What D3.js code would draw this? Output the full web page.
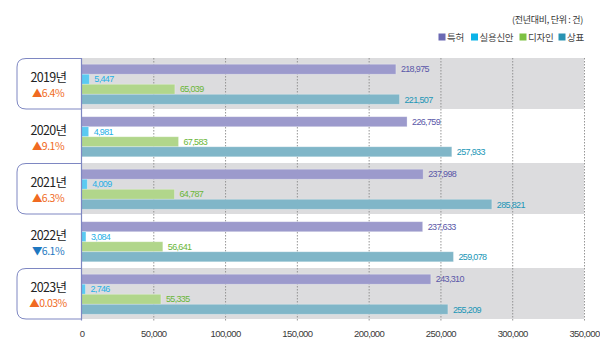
<!DOCTYPE html>
<html>
<head>
<meta charset="utf-8">
<script src="https://cdn.jsdelivr.net/npm/d3@7"></script>
<style>
  body { margin: 0; background: #fff; }
  svg { display: block; font-family: 'Noto Sans CJK KR', 'Noto Sans', sans-serif; }
</style>
</head>
<body>
<div class="chart"></div>
<script>
const years = ['2019년', '2020년', '2021년', '2022년', '2023년'];
const changeRates = [6.4, 9.1, 6.3, -6.1, 0.03];
const seriesNames = ['특허', '실용신안', '디자인', '상표'];
const patent = [218975, 226759, 237998, 237633, 243310];
const utility = [5447, 4981, 4009, 3084, 2746];
const design = [65039, 67583, 64787, 56641, 55335];
const trademark = [221507, 257933, 285821, 259078, 255209];
const xTicks = [0, 50000, 100000, 150000, 200000, 250000, 300000, 350000];

const width = 600;
const height = 342;
const margin = { top: 58, left: 81.5, bottom: 21.5, right: 16 };

// bar fill / value label / legend swatch per series
const barColors = ['#9c9acc', '#5bcaf1', '#b1d68b', '#80b6c8'];
const labelColors = ['#5a57a8', '#1fb0e6', '#69b637', '#2096b6'];
const legendColors = ['#6b69b3', '#0bb3e8', '#7cc142', '#2a93b2'];

const seriesValues = [patent, utility, design, trademark];
const rows = years.map((y, i) => ({
  year: y,
  rate: changeRates[i],
  values: seriesValues.map((s, k) => ({ key: k, value: s[i] }))
}));

const svg = d3.select('.chart').append('svg')
  .attr('width', width)
  .attr('height', height);

const x = d3.scaleLinear()
  .domain([0, 350000])
  .range([margin.left, width - margin.right]);

const y = d3.scaleBand()
  .domain(years)
  .range([margin.top, height - margin.bottom]);

const inner = d3.scaleBand()
  .domain(d3.range(seriesNames.length))
  .range([0, y.bandwidth()])
  .paddingOuter(0.62);

// shaded rows for every other year
svg.append('g').selectAll('rect')
  .data(rows.filter((d, i) => i % 2 === 0))
  .join('rect')
    .attr('x', x(0))
    .attr('y', d => y(d.year))
    .attr('width', x(350000) - x(0))
    .attr('height', y.bandwidth() - 1.5)
    .attr('fill', '#dcdcde');

// dotted grid
svg.append('g').selectAll('line')
  .data(xTicks.slice(1))
  .join('line')
    .attr('x1', d => x(d) + 0.5)
    .attr('x2', d => x(d) + 0.5)
    .attr('y1', margin.top)
    .attr('y2', height - margin.bottom)
    .attr('stroke', '#8a8a8a')
    .attr('stroke-width', 0.9)
    .attr('stroke-dasharray', '1.5,1.5');

// bars
const groups = svg.append('g').selectAll('g')
  .data(rows)
  .join('g')
    .attr('transform', d => `translate(0,${y(d.year)})`);

groups.selectAll('rect')
  .data(d => d.values)
  .join('rect')
    .attr('x', x(0))
    .attr('y', d => inner(d.key))
    .attr('width', d => x(d.value) - x(0))
    .attr('height', inner.bandwidth())
    .attr('fill', d => barColors[d.key])
    .attr('stroke', '#fff')
    .attr('stroke-opacity', 0.35)
    .attr('stroke-width', 0.8);

groups.selectAll('text')
  .data(d => d.values)
  .join('text')
    .attr('x', d => x(d.value) + 5)
    .attr('y', d => inner(d.key) + inner.bandwidth() / 2)
    .attr('dy', '0.36em')
    .attr('fill', d => labelColors[d.key])
    .style('font-family', "'Liberation Sans', Arial, sans-serif")
    .style('font-size', '9px')
    .style('letter-spacing', '-0.65px')
    .text(d => d3.format(',')(d.value));

// year boxes on the left
const yearCells = svg.append('g').selectAll('g')
  .data(rows)
  .join('g')
    .attr('transform', d => `translate(0,${y(d.year)})`);

yearCells.filter((d, i) => i % 2 === 0)
  .append('path')
    .attr('d', () => {
      const l = 17, r = x(0), h = y.bandwidth() - 1.5, rad = 9;
      return `M${r},0.5 H${l + rad} Q${l},0.5 ${l},${rad} V${h - rad} Q${l},${h} ${l + rad},${h} H${r}`;
    })
    .attr('fill', '#fff')
    .attr('stroke', '#7e87c2')
    .attr('stroke-width', 1);

yearCells.append('text')
  .attr('x', 48.5)
  .attr('y', y.bandwidth() / 2 - 2)
  .attr('text-anchor', 'middle')
  .attr('fill', '#222')
  .style('font-size', '12.5px')
  .style('letter-spacing', '-0.7px')
  .text(d => d.year);

yearCells.append('text')
  .attr('x', 48)
  .attr('y', y.bandwidth() / 2 + 13)
  .attr('text-anchor', 'middle')
  .attr('fill', d => d.rate < 0 ? '#1f78c1' : '#f06a22')
  .style('font-size', '10.5px')
  .style('letter-spacing', '-0.5px')
  .text(d => (d.rate < 0 ? '▼' : '▲') + Math.abs(d.rate) + '%');

// left axis line
svg.append('line')
  .attr('x1', x(0))
  .attr('x2', x(0))
  .attr('y1', margin.top)
  .attr('y2', height - margin.bottom)
  .attr('stroke', '#7e87c2')
  .attr('stroke-width', 1.2);

// x axis labels
const xAxis = d3.axisBottom(x)
  .tickValues(xTicks)
  .tickFormat(d3.format(','))
  .tickSize(0)
  .tickPadding(10);

svg.append('g')
  .attr('transform', `translate(0,${height - margin.bottom})`)
  .call(xAxis)
  .call(g => g.select('.domain').remove())
  .call(g => g.selectAll('text')
    .attr('fill', '#3a3a3a')
    .style('font-family', "'Liberation Sans', Arial, sans-serif")
    .style('font-size', '9.5px')
    .style('letter-spacing', '-0.6px'));

// unit note and legend
svg.append('text')
  .attr('x', 583)
  .attr('y', 23)
  .attr('text-anchor', 'end')
  .attr('fill', '#333')
  .style('font-size', '9px')
  .style('letter-spacing', '-0.3px')
  .text('(전년대비, 단위 : 건)');

const legendX = [438.5, 471, 519.5, 558.5];
const legend = svg.append('g').selectAll('g')
  .data(seriesNames)
  .join('g')
    .attr('transform', (d, i) => `translate(${legendX[i]},33.5)`);

legend.append('rect')
  .attr('width', 7)
  .attr('height', 7)
  .attr('fill', (d, i) => legendColors[i]);

legend.append('text')
  .attr('x', 8.5)
  .attr('y', 3.7)
  .attr('dy', '0.35em')
  .attr('fill', '#444')
  .style('font-size', '9.5px')
  .style('letter-spacing', '-0.3px')
  .text(d => d);
</script>
</body>
</html>
